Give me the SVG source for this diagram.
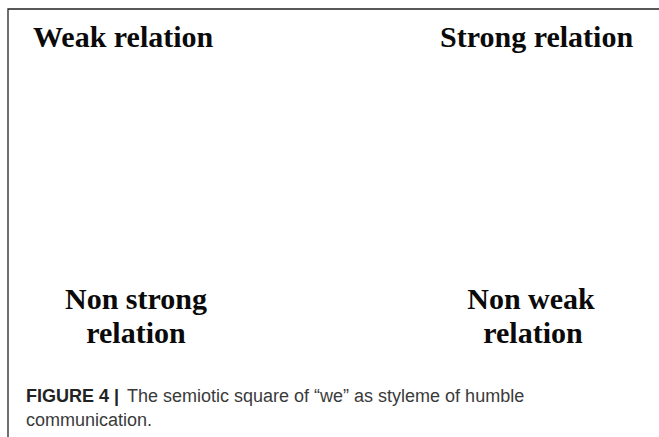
<svg xmlns="http://www.w3.org/2000/svg" width="659" height="437" viewBox="0 0 659 437">
<style>
.lbl{font-family:"Liberation Serif","Times New Roman",serif;font-weight:bold;font-size:30px;fill:#0a0a0a}
.cap{font-family:"Liberation Sans",Arial,sans-serif;font-size:18px;fill:#3a3a3a}
.capb{font-family:"Liberation Sans",Arial,sans-serif;font-size:18px;font-weight:bold;fill:#222}
</style>
<rect width="659" height="437" fill="#fff"/>
<g id="frame" fill="none" stroke="#222" stroke-width="1.3">
<path d="M659,9 H8 V437"/>
</g>
<g id="connectors"></g>
<g id="weak"><text class="lbl" x="33" y="47">Weak relation</text></g>
<g id="strong"><text class="lbl" x="440" y="47">Strong relation</text></g>
<g id="nonstrong"><text class="lbl" text-anchor="middle" x="136" y="309">Non strong</text><text class="lbl" text-anchor="middle" x="136" y="343">relation</text></g>
<g id="nonweak"><text class="lbl" text-anchor="middle" x="531" y="309">Non weak</text><text class="lbl" text-anchor="middle" x="533" y="343">relation</text></g>
<g id="caption">
<text class="capb" x="26" y="402">FIGURE 4 |</text>
<text class="cap" x="127" y="402">The semiotic square of “we” as styleme of humble</text>
<text class="cap" x="26" y="426">communication.</text>
</g>
</svg>
